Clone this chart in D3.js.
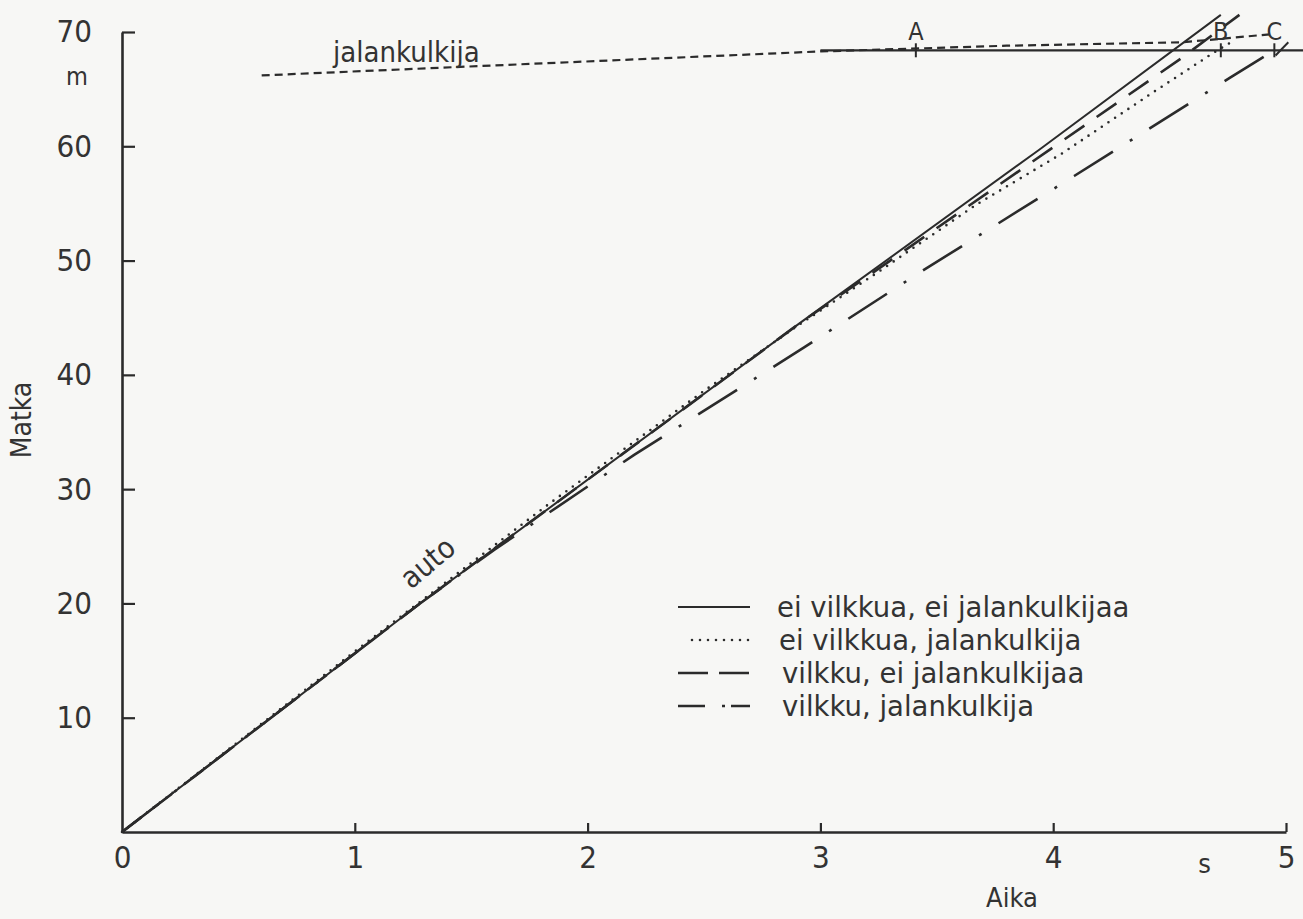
<!DOCTYPE html>
<html>
<head>
<meta charset="utf-8">
<script src="https://cdn.jsdelivr.net/npm/d3@7"></script>
<style>
  html, body { margin: 0; padding: 0; background: #f7f7f5; }
  svg { display: block; }
  text { font-family: "DejaVu Sans Condensed", "DejaVu Sans", sans-serif; font-stretch: condensed; fill: #333; }
  text.legend { font-family: "DejaVu Sans", sans-serif; font-stretch: normal; }
</style>
</head>
<body>
<svg id="chart" width="1303" height="919"></svg>
<script>
// Axis ticks
const timeTicks = [0, 1, 2, 3, 4, 5];
const distTicks = [10, 20, 30, 40, 50, 60, 70];

// Car trajectories: [time s, distance m]
const noSignalNoPed = [[0, 0], [1.28, 20.0], [2.91, 44.5], [3.94, 59.7], [4.72, 71.5]];
const noSignalPed = [[0, 0], [1.0, 15.8], [1.84, 28.8], [2.5, 38.6], [2.91, 44.4], [3.27, 49.3],
                     [3.67, 54.9], [4.04, 59.4], [4.42, 64.6], [4.69, 68.2], [4.78, 69.3]];
const signalNoPed = [[0, 0], [1.28, 20.0], [2.91, 44.5], [3.3, 50.0], [3.61, 54.4], [4.55, 67.7], [4.80, 71.5]];
const signalPed = [[0, 0], [1.28, 20.0], [1.6, 24.7], [2.2, 33.0], [2.93, 42.4], [3.43, 49.0],
                   [4.09, 57.4], [4.76, 66.0], [4.95, 68.4]];

// Pedestrian path and crossing line
const pedestrian = [[0.6, 66.2], [3.0, 68.3], [3.8, 68.8], [4.55, 69.1], [4.72, 69.4], [4.93, 69.8]];
const crossing = [[3.0, 68.4], [5.08, 68.4]];
const markNames = ["A", "B", "C"];
const markTimes = [3.41, 4.72, 4.95];

const legendLabels = ["ei vilkkua, ei jalankulkijaa", "ei vilkkua, jalankulkija",
                      "vilkku, ei jalankulkijaa", "vilkku, jalankulkija"];

const ink = "#2b2b2b";
const svg = d3.select("#chart");

const x = d3.scaleLinear().domain([0, 5]).range([122, 1286]);
const y = d3.scaleLinear().domain([0, 70]).range([832, 32]);

// Axes
const yAxis = d3.axisLeft(y).tickValues(distTicks).tickFormat(d3.format("d"))
  .tickSize(-13).tickSizeOuter(0).tickPadding(30);
const xAxis = d3.axisBottom(x).tickValues(timeTicks).tickFormat(d3.format("d"))
  .tickSize(-9).tickSizeOuter(0).tickPadding(14);

const gy = svg.append("g").attr("transform", `translate(${x(0)},0)`).call(yAxis);
const gx = svg.append("g").attr("transform", `translate(0,${y(0)})`).call(xAxis);
[gx, gy].forEach(g => {
  g.select(".domain").attr("stroke", ink).attr("stroke-width", 2.6);
  g.selectAll(".tick line").attr("stroke", ink).attr("stroke-width", 2.2);
  g.selectAll(".tick text").attr("fill", "#333").style("font-size", "31px")
    .style("font-family", '"DejaVu Sans Condensed", "DejaVu Sans", sans-serif');
});
gx.selectAll(".tick").filter(d => d === 0).select("line").remove();

// Unit and axis titles
svg.append("text").attr("x", 77).attr("y", 85).attr("text-anchor", "middle")
  .style("font-size", "25px").text("m");
svg.append("text").attr("x", x(4.65)).attr("y", 873).attr("text-anchor", "middle")
  .style("font-size", "27px").text("s");
svg.append("text").attr("x", 1012).attr("y", 907).attr("text-anchor", "middle")
  .style("font-size", "27px").text("Aika");
svg.append("text").attr("transform", "translate(31,420) rotate(-90)").attr("text-anchor", "middle")
  .style("font-size", "28px").text("Matka");

const line = d3.line().x(d => x(d[0])).y(d => y(d[1]));

// Crossing line and pedestrian path
svg.append("path").attr("d", line(crossing)).attr("fill", "none")
  .attr("stroke", ink).attr("stroke-width", 2.2);
svg.append("path").attr("d", line(pedestrian)).attr("fill", "none")
  .attr("stroke", ink).attr("stroke-width", 2.2).attr("stroke-dasharray", "8,5");

// Car trajectories
const styles = [
  { data: noSignalNoPed, dash: null, w: 2.0, cap: "butt" },
  { data: noSignalPed, dash: "0,8", w: 2.6, cap: "round" },
  { data: signalNoPed, dash: "24,15", w: 2.6, cap: "butt" },
  { data: signalPed, dash: "46,20,3,20", w: 2.6, cap: "butt" }
];
styles.forEach(s => {
  svg.append("path").attr("d", line(s.data)).attr("fill", "none")
    .attr("stroke", ink).attr("stroke-width", s.w)
    .attr("stroke-linecap", s.cap)
    .attr("stroke-dasharray", s.dash);
});

// Marks A, B, C on the crossing line
markTimes.forEach((t, i) => {
  svg.append("line").attr("x1", x(t)).attr("x2", x(t))
    .attr("y1", y(68.4) - 7).attr("y2", y(68.4) + 7)
    .attr("stroke", ink).attr("stroke-width", 2);
  svg.append("text").attr("x", x(t)).attr("y", y(68.4) - 10).attr("text-anchor", "middle")
    .style("font-size", "25px").text(markNames[i]);
});
svg.append("path").attr("d", line([[4.955, 67.95], [5.01, 69.1]])).attr("fill", "none")
  .attr("stroke", ink).attr("stroke-width", 2);

// Series labels
svg.append("text").attr("x", 333).attr("y", 62).style("font-size", "29px").text("jalankulkija");
svg.append("text").attr("transform", "translate(411,590) rotate(-40)")
  .style("font-size", "30px").text("auto");

// Legend
const legX = 678, legW = 72;
const legY = [607, 640, 673, 706];
const legText = [777, 779, 782, 782];
styles.forEach((s, i) => {
  const x0 = i === 1 ? legX + 14 : legX;
  svg.append("line").attr("x1", x0).attr("x2", legX + legW)
    .attr("y1", legY[i]).attr("y2", legY[i])
    .attr("stroke", ink).attr("stroke-width", s.w)
    .attr("stroke-linecap", s.cap)
    .attr("stroke-dasharray", i === 2 ? "30,11" : i === 3 ? "27,17,3,6" : s.dash);
  svg.append("text").attr("class", "legend").attr("x", legText[i]).attr("y", legY[i] + 10)
    .style("font-size", "27.5px").text(legendLabels[i]);
});
</script>
</body>
</html>
